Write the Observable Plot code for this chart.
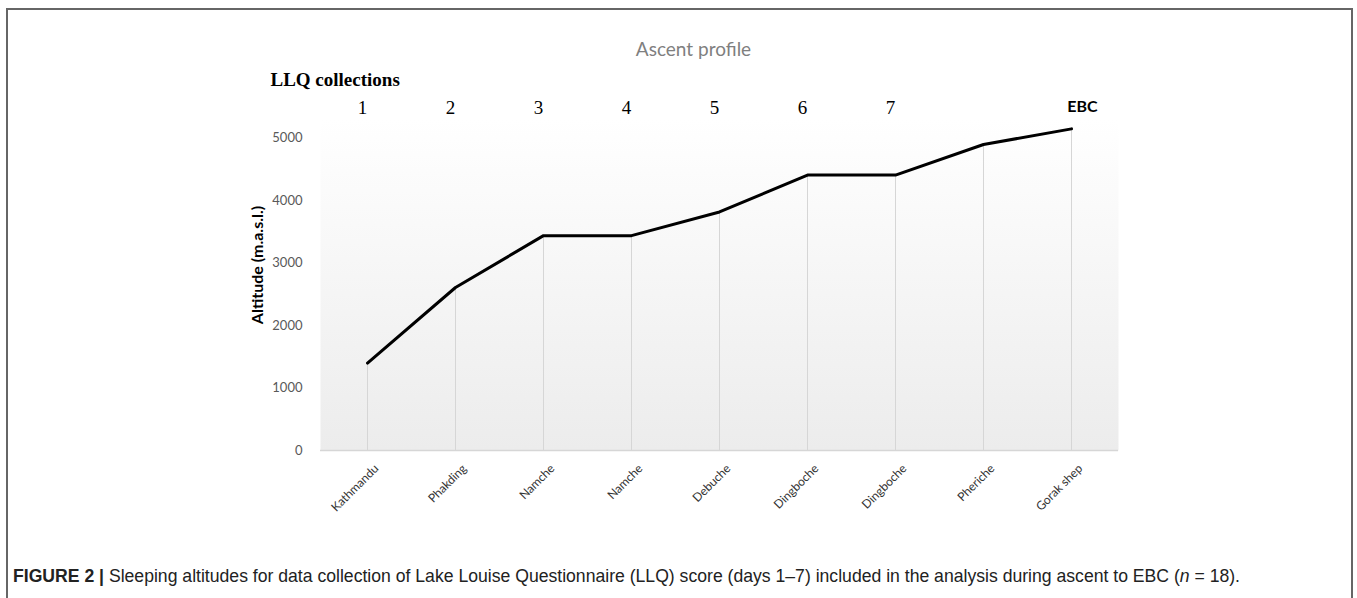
<!DOCTYPE html>
<html>
<head>
<meta charset="utf-8">
<script src="https://cdn.jsdelivr.net/npm/d3@7"></script>
<script src="https://cdn.jsdelivr.net/npm/@observablehq/plot@0.6"></script>
<style>
  html, body { margin: 0; padding: 0; background: #fff; }
  #wrap { position: relative; width: 1357px; height: 598px; overflow: hidden; }
  #chart { position: absolute; left: 0; top: 0; }
  #border { position: absolute; left: 6px; top: 8px; width: 1347px; height: 600px;
            border: 2px solid #666; border-bottom: none; box-sizing: border-box; }
  #caption { position: absolute; left: 13px; top: 566px; white-space: nowrap;
             font-family: "Liberation Sans Narrow", "Liberation Sans", Arial, sans-serif;
             font-size: 16px; color: #222; }
  #caption b { font-weight: bold; }
</style>
</head>
<body>
<div id="wrap">
  <div id="border"></div>
  <div id="chart"></div>
  <div id="caption"><b>FIGURE 2 |</b> Sleeping altitudes for data collection of Lake Louise Questionnaire (LLQ) score (days 1–7) included in the analysis during ascent to EBC (<i>n</i> = 18).</div>
</div>
<script>
const places = ["Kathmandu", "Phakding", "Namche", "Namche", "Debuche", "Dingboche", "Dingboche", "Pheriche", "Gorak shep"];
const altitude = [1400, 2610, 3440, 3440, 3820, 4410, 4410, 4900, 5150];
const llqLabels = ["1", "2", "3", "4", "5", "6", "7", "", "EBC"];
const yTicks = [0, 1000, 2000, 3000, 4000, 5000];

const rows = places.map((p, i) => ({i, place: p, alt: altitude[i], llq: llqLabels[i]}));
const numbered = rows.filter(d => d.llq !== "" && d.llq !== "EBC");
const ebc = rows.filter(d => d.llq === "EBC");

const chart = Plot.plot({
  width: 1357,
  height: 545,
  marginTop: 119,
  marginBottom: 95,
  marginLeft: 320,
  marginRight: 239,
  style: {fontFamily: "Lato, 'Open Sans', sans-serif", background: "transparent", overflow: "visible"},
  x: {type: "point", domain: d3.range(places.length), padding: 0.5},
  y: {domain: [0, 5300]},
  marks: [
    Plot.frame({fill: "url(#bgGrad)", stroke: null}),
    Plot.ruleX(rows, {x: "i", y1: 0, y2: "alt", stroke: "#d6d6d6", strokeWidth: 1}),
    Plot.ruleY([0], {stroke: "#d6d6d6", strokeWidth: 1.5}),
    Plot.line(rows, {x: "i", y: "alt", stroke: "#000", strokeWidth: 3, strokeLinejoin: "round"}),
    Plot.axisY({ticks: yTicks, tickSize: 0, tickPadding: 18, fontSize: 13, color: "#595959", label: null, tickFormat: d => String(d)}),
    Plot.axisX({tickRotate: -45, tickSize: 0, tickPadding: 16, dx: 9, fontSize: 12, color: "#333", label: null,
                tickFormat: i => places[i]}),
    Plot.text(["Altitude (m.a.s.l.)"], {frameAnchor: "left", textAnchor: "middle", rotate: -90, dx: -63, dy: -20,
      fontSize: 16, fontWeight: "bold", fill: "#000"}),
    Plot.text(["Ascent profile"], {frameAnchor: "top", dx: -26, dy: -77, fontSize: 19, fill: "#7f7f7f"}),
    Plot.text(["LLQ collections"], {frameAnchor: "top-left", dx: -50, dy: -47, textAnchor: "start",
      fontSize: 19, fontWeight: "bold", fontFamily: "'Liberation Serif', 'Times New Roman', serif", fill: "#000"}),
    Plot.text(numbered, {x: "i", text: "llq", frameAnchor: "top", dx: -5, dy: -19, fontSize: 19,
      fontFamily: "'Liberation Serif', 'Times New Roman', serif", fill: "#000"}),
    Plot.text(ebc, {x: "i", text: "llq", frameAnchor: "top", dx: 11, dy: -19, fontSize: 16,
      fontWeight: "bold", fill: "#000"})
  ]
});

// gradient background for the plot area
const svg = d3.select(chart);
const defs = svg.insert("defs", ":first-child");
const grad = defs.append("linearGradient").attr("id", "bgGrad")
  .attr("x1", 0).attr("y1", 0).attr("x2", 0).attr("y2", 1);
grad.append("stop").attr("offset", "0%").attr("stop-color", "#ffffff");
grad.append("stop").attr("offset", "100%").attr("stop-color", "#ececec");

document.getElementById("chart").appendChild(chart);

// fit caption width to the figure
const cap = document.getElementById("caption");
const target = 1227;
const w = cap.getBoundingClientRect().width;
if (w > 0) cap.style.fontSize = (16 * target / w).toFixed(2) + "px";
</script>
</body>
</html>
